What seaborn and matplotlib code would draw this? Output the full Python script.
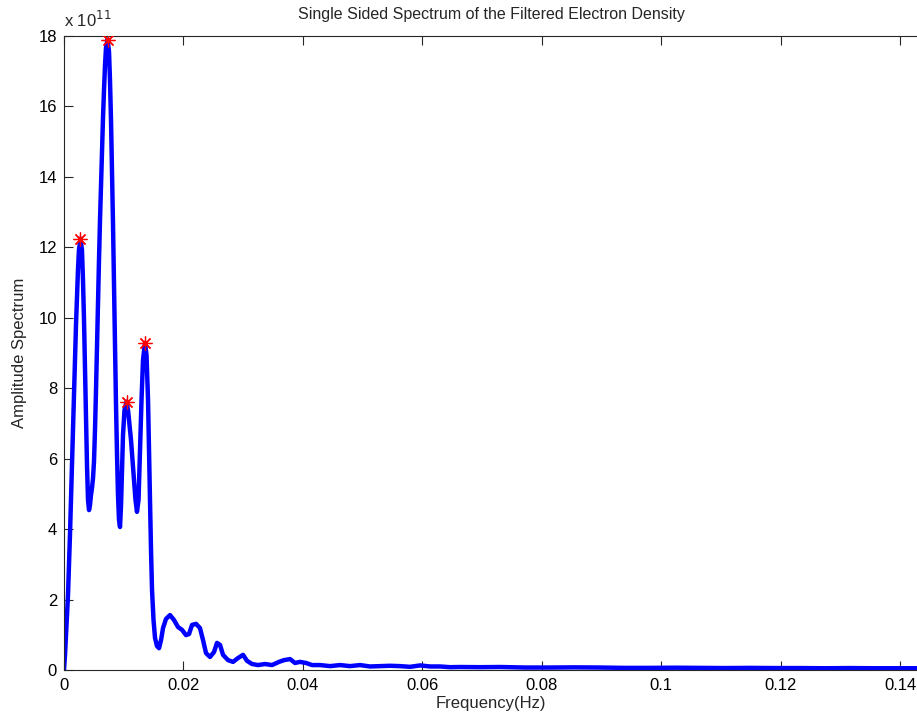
import matplotlib
matplotlib.use("Agg")
import matplotlib.pyplot as plt
import seaborn as sns
import pandas as pd

# Single-sided amplitude spectrum (amplitude in units of 1e11)
freq_hz = [
    0.0, 0.00017, 0.00033, 0.0005, 0.00067, 0.00084, 0.0010, 0.00117, 0.00134,
    0.00151, 0.00167, 0.00184, 0.00201, 0.00218, 0.00234, 0.0025, 0.00276,
    0.00301, 0.00318, 0.00335, 0.00352, 0.00368, 0.00385, 0.00402, 0.00419,
    0.00435, 0.00452, 0.00469, 0.00486, 0.00502, 0.00519, 0.00536, 0.00553,
    0.00569, 0.00586, 0.00603, 0.0062, 0.00636, 0.00653, 0.0067, 0.00687,
    0.00703, 0.00729, 0.00754, 0.0077, 0.00787, 0.00804, 0.00821, 0.00837,
    0.00854, 0.00871, 0.00888, 0.00904, 0.00921, 0.00938, 0.00955, 0.00971,
    0.00988, 0.01013, 0.01047, 0.01072, 0.01097, 0.01122, 0.01147, 0.01172,
    0.01197, 0.01222, 0.01248, 0.01273, 0.01298, 0.01323, 0.01356, 0.01382,
    0.01407, 0.01423, 0.0144, 0.01457, 0.01474, 0.01499, 0.01524, 0.01557,
    0.01591, 0.01625, 0.01658, 0.01708, 0.01775, 0.01842, 0.01909, 0.01976,
    0.02043, 0.02093, 0.02144, 0.02211, 0.02277, 0.02328, 0.02378, 0.02445,
    0.02512, 0.02562, 0.02613, 0.02663, 0.02747, 0.0283, 0.02914, 0.02998,
    0.03065, 0.03148, 0.03249, 0.03366, 0.03483, 0.036, 0.03684, 0.03785,
    0.03868, 0.03952, 0.04053, 0.04153, 0.04287, 0.04455, 0.04622, 0.04789,
    0.04957, 0.05125, 0.05292, 0.0546, 0.05627, 0.05795, 0.05962, 0.06129,
    0.06297, 0.06464, 0.06631, 0.06966, 0.07301, 0.07720, 0.08139, 0.08558,
    0.08976, 0.09395, 0.09813, 0.1023, 0.1065, 0.1107, 0.1149, 0.1191, 0.1233,
    0.1275, 0.1316, 0.1358, 0.1400, 0.1431,
]
amp_e11 = [
    0.0, 0.43, 0.99, 1.56, 2.13, 2.98, 3.83, 4.83, 5.82,
    6.81, 7.81, 8.80, 9.80, 10.65, 11.36, 11.92, 12.25,
    11.92, 11.07, 9.94, 8.52, 7.10, 5.82, 4.83, 4.54,
    4.68, 4.97, 5.17, 5.45, 5.91, 6.81, 7.95, 9.23,
    10.51, 11.64, 12.78, 13.77, 14.76, 15.67, 16.47, 17.18,
    17.66, 17.90, 17.55, 16.75, 15.62, 14.20, 12.63, 10.93,
    9.23, 7.52, 6.10, 4.97, 4.26, 4.06, 4.68, 5.68,
    6.67, 7.38, 7.62, 7.38, 6.96, 6.53, 5.96, 5.39,
    4.83, 4.49, 4.83, 6.25, 7.67, 8.80, 9.29, 8.94,
    7.67, 6.25, 4.83, 3.41, 2.27, 1.42, 0.91, 0.68,
    0.62, 0.85, 1.19, 1.45, 1.56, 1.42, 1.22, 1.14,
    0.99, 1.02, 1.28, 1.31, 1.19, 0.85, 0.48, 0.37,
    0.51, 0.77, 0.71, 0.43, 0.28, 0.23, 0.34, 0.43,
    0.26, 0.17, 0.14, 0.17, 0.14, 0.23, 0.28, 0.31,
    0.20, 0.23, 0.20, 0.14, 0.14, 0.11, 0.14, 0.11,
    0.14, 0.10, 0.11, 0.12, 0.11, 0.09, 0.13, 0.10,
    0.10, 0.08, 0.085, 0.08, 0.085, 0.07, 0.07, 0.075,
    0.07, 0.06, 0.06, 0.065, 0.06, 0.055, 0.06, 0.055,
    0.055, 0.05, 0.055, 0.05, 0.05, 0.05,
]

# Detected spectral peaks
peak_freq = [0.00276, 0.00729, 0.01047, 0.01356]
peak_amp = [12.25, 17.90, 7.62, 9.29]

x_ticks = [0, 0.02, 0.04, 0.06, 0.08, 0.1, 0.12, 0.14]
x_tick_labels = ["0", "0.02", "0.04", "0.06", "0.08", "0.1", "0.12", "0.14"]
y_ticks = [0, 2, 4, 6, 8, 10, 12, 14, 16, 18]

sns.set_style("white")
plt.rcParams["font.family"] = ["Liberation Sans", "DejaVu Sans"]

W, H = 917, 722
fig = plt.figure(figsize=(W / 100, H / 100), dpi=100)
left_px, right_px, top_px, bottom_px = 64, 918, 36, 670
ax = fig.add_axes([left_px / W, (H - bottom_px) / H,
                   (right_px - left_px) / W, (bottom_px - top_px) / H])

spec = pd.DataFrame({"freq": freq_hz, "amp": amp_e11})
sns.lineplot(data=spec, x="freq", y="amp", ax=ax, color="#0000ff",
             linewidth=3.2, estimator=None, sort=False)
peaks = pd.DataFrame({"freq": peak_freq, "amp": peak_amp})
# asterisk markers at the peaks
ax.plot(peaks["freq"], peaks["amp"], linestyle="none", marker=(8, 2, 0),
        color="#ff0000", markersize=10, markeredgewidth=0.9, zorder=5)

ax.set_xlim(0, 0.1430)
ax.set_ylim(0, 18)
ax.set_xticks(x_ticks)
ax.set_xticklabels(x_tick_labels)
ax.set_yticks(y_ticks)
ax.set_yticklabels([str(v) for v in y_ticks])

for side in ["left", "bottom", "top", "right"]:
    ax.spines[side].set_visible(True)
    ax.spines[side].set_color("#262626")
    ax.spines[side].set_linewidth(0.8)
ax.tick_params(axis="both", which="both", direction="in", length=6.5,
               width=0.8, color="#262626", labelsize=12, labelcolor="black",
               top=True, right=False, bottom=True, left=True)
ax.tick_params(axis="x", pad=6)
ax.tick_params(axis="y", pad=5)

ax.set_xlabel("Frequency(Hz)", fontsize=12, labelpad=2)
ax.set_ylabel("Amplitude Spectrum", fontsize=12, labelpad=8)
ax.set_title("Single Sided Spectrum of the Filtered Electron Density",
             fontsize=11.5, pad=12)
ax.text(0.0, 1.01, r"x 10$^{11}$", transform=ax.transAxes, fontsize=12,
        ha="left", va="bottom")

fig.savefig("out.png", dpi=100)
